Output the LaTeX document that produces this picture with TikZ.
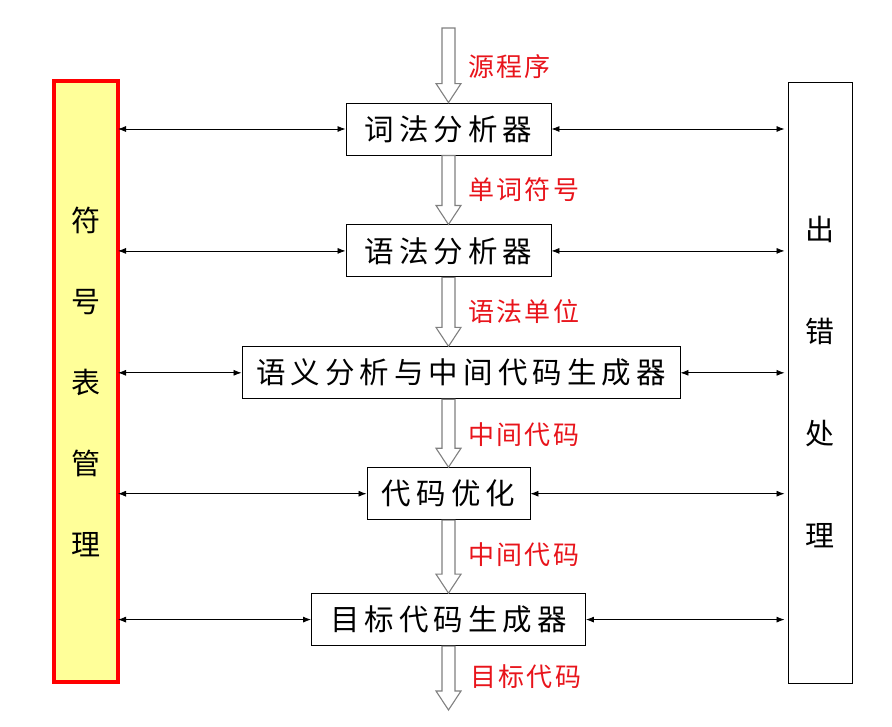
\documentclass[tikz,border=0pt]{standalone}
\usepackage{fontspec}
\newfontfamily\cjk[LetterSpace=17]{Noto Sans CJK SC}
\newfontfamily\cjklbl[LetterSpace=9]{Noto Sans CJK SC}
\usetikzlibrary{arrows.meta,positioning,calc}
\definecolor{symfill}{HTML}{FFFF99}
\definecolor{lblred}{HTML}{E8141B}

\tikzset{
  stage/.style={draw, line width=0.9pt, minimum height=52pt, inner sep=0pt, font=\cjk\fontsize{29.5}{31}\selectfont},
  flowlbl/.style={anchor=west, text=lblred, inner sep=0pt, font=\cjklbl\fontsize{26}{28}\selectfont},
  sidebox/.style={minimum width=64pt, minimum height=601pt, inner sep=0pt},
  link/.style={line width=0.8pt, {Latex[length=8pt,width=6pt]}-{Latex[length=8pt,width=6pt]}},
  fatline/.style={draw=gray, line width=1.1pt, fill=white}
}
% hollow down arrow between two points on the same vertical
\newcommand\fatdown[2]{%
  \path[fatline] let \p1=(#1), \p2=(#2) in
    (\x1-6.5pt,\y1) -- (\x1-6.5pt,\y2+19pt) -- (\x1-12.5pt,\y2+19pt) -- (\x1,\y2)
    -- (\x1+12.5pt,\y2+19pt) -- (\x1+6.5pt,\y2+19pt) -- (\x1+6.5pt,\y1) -- cycle;}

\begin{document}
\begin{tikzpicture}[x=1pt,y=-1pt]
\useasboundingbox (0,0) rectangle (892,726);

% side boxes
\node[sidebox, draw=red, line width=4pt, fill=symfill] (sym) at (86,381.5) {};
\node[font=\cjk\fontsize{29}{81}\selectfont, align=center] (symtxt) at (sym.center) {符\\号\\表\\管\\理};
\node[sidebox, draw, line width=0.9pt] (err) at (820,382.5) {};
\node[font=\cjk\fontsize{29}{102}\selectfont, align=center] (errtxt) at (err.center) {出\\错\\处\\理};

% compiler stages
\node[stage, minimum width=205pt] (lex) at (448.5,129) {词法分析器};
\node[stage, minimum width=205pt, below=69pt of lex] (syn) {语法分析器};
\node[stage, minimum width=438pt, below=69pt of syn, xshift=12.5pt] (sem) {语义分析与中间代码生成器};
\node[stage, minimum width=163pt, below=68pt of sem, xshift=-12.5pt] (opt) {代码优化};
\node[stage, minimum width=274pt, below=73pt of opt] (gen) {目标代码生成器};

\coordinate (src) at (448.5,28);
\coordinate (out) at (448.5,710);

% data flow
\fatdown{src}{lex.north}
\fatdown{lex.south}{syn.north}
\fatdown{syn.south}{syn.south |- sem.north}
\fatdown{syn.south |- sem.south}{opt.north}
\fatdown{opt.south}{gen.north}
\fatdown{gen.south}{out}

\node[flowlbl] (l0) at (468,67) {源程序};
\node[flowlbl] (l1) at (468,190) {单词符号};
\node[flowlbl] (l2) at (468,312) {语法单位};
\node[flowlbl] (l3) at (468,435) {中间代码};
\node[flowlbl] (l4) at (468,555) {中间代码};
\node[flowlbl] (l5) at (470,677) {目标代码};

% links to symbol table and error handling
\foreach \s in {lex,syn,sem,opt,gen}{
  \draw[link] ([xshift=-2pt]sym.east |- \s.west) -- (\s.west);
  \draw[link] (\s.east) -- ([xshift=-3pt]err.west |- \s.east);
}
\end{tikzpicture}
\end{document}
